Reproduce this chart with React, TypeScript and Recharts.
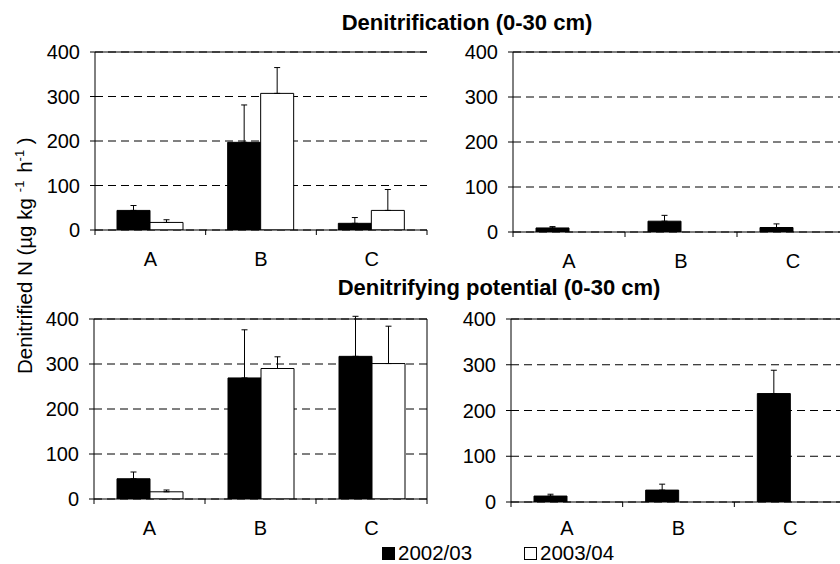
import { BarChart, Bar, XAxis, YAxis, CartesianGrid, ErrorBar, ReferenceLine } from 'recharts'

// ─── Data ────────────────────────────────────────────────────────────────────

const categories = ['A', 'B', 'C']
const seriesNames = ['2002/03', '2003/04']
const titles = ['Denitrification (0-30 cm)', 'Denitrifying potential (0-30 cm)']
const yTicks = [0, 100, 200, 300, 400]

// Denitrification (0-30 cm), left panel
const denitLeft2002 = [44, 197, 15]
const denitLeft2002Err = [11, 84, 13]
const denitLeft2003 = [17, 307, 44]
const denitLeft2003Err = [6, 58, 47]

// Denitrification (0-30 cm), right panel (2002/03 only)
const denitRight2002 = [9, 24, 10]
const denitRight2002Err = [3, 13, 8]

// Denitrifying potential (0-30 cm), left panel
const potLeft2002 = [45, 269, 317]
const potLeft2002Err = [15, 107, 89]
const potLeft2003 = [16, 290, 301]
const potLeft2003Err = [4, 26, 83]

// Denitrifying potential (0-30 cm), right panel (2002/03 only)
const potRight2002 = [13, 26, 237]
const potRight2002Err = [4, 13, 51]

// ─── Helpers ─────────────────────────────────────────────────────────────────

type Row = { cat: string; s1: number; e1: number[]; s2: number | null; e2: number[] | null }

function buildRows(v1: number[], err1: number[], v2?: number[], err2?: number[]): Row[] {
  return categories.map((cat, i) => ({
    cat,
    s1: v1[i],
    e1: [0, err1[i]],
    s2: v2 ? v2[i] : null,
    e2: v2 && err2 ? [0, err2[i]] : null,
  }))
}

const FONT = "'Liberation Sans', Arial, Helvetica, sans-serif"
const Y_W = 70
const T_PAD = 12
const R_PAD = 10
const X_H = 48

// category label in the band centre, tick marks on the band edges
function CategoryTick(props: any) {
  const { x, y, payload, gap } = props
  const half = payload?.offset ?? 0
  const axisY = y - gap
  const isLast = payload?.value === categories[categories.length - 1]
  return (
    <g>
      <line x1={x - half} y1={axisY} x2={x - half} y2={axisY + 5} stroke="#000" />
      {isLast && <line x1={x + half} y1={axisY} x2={x + half} y2={axisY + 5} stroke="#000" />}
      <text x={x} y={y} dy="0.71em" textAnchor="middle" fontSize={20} fill="#000">
        {payload.value}
      </text>
    </g>
  )
}

interface PanelProps {
  left: number
  top: number
  width: number
  height: number
  rows: Row[]
  hasSecond: boolean
  labelGap?: number
}

function Panel({ left, top, width, height, rows, hasSecond, labelGap = 22 }: PanelProps) {
  return (
    <div style={{ position: 'absolute', left: left - Y_W, top: top - T_PAD }}>
      <BarChart
        width={Y_W + width + R_PAD}
        height={T_PAD + height + X_H}
        data={rows}
        margin={{ top: T_PAD, right: R_PAD, left: 0, bottom: 0 }}
        barGap={0}
        barSize={33}
      >
        <CartesianGrid horizontal vertical={false} stroke="#000" strokeDasharray="8 5" />
        <XAxis
          dataKey="cat"
          axisLine={{ stroke: '#000' }}
          tickLine={false}
          tickSize={0}
          tickMargin={labelGap}
          height={X_H}
          interval={0}
          tick={<CategoryTick gap={labelGap} />}
        />
        <YAxis
          domain={[0, 400]}
          ticks={yTicks}
          allowDataOverflow
          interval={0}
          width={Y_W}
          axisLine={{ stroke: '#000' }}
          tickLine={{ stroke: '#000' }}
          tickSize={5}
          tickMargin={10}
          tick={{ fill: '#000', fontSize: 20 }}
        />
        <ReferenceLine y={400} stroke="#000" />
        <ReferenceLine x="C" position="end" stroke="#000" />
        <Bar dataKey="s1" name={seriesNames[0]} fill="#000" stroke="#000" isAnimationActive={false}>
          <ErrorBar dataKey="e1" direction="y" width={3} stroke="#000" strokeWidth={1} isAnimationActive={false} />
        </Bar>
        <Bar dataKey="s2" name={seriesNames[1]} fill="#fff" stroke="#000" isAnimationActive={false}>
          {hasSecond && (
            <ErrorBar dataKey="e2" direction="y" width={3} stroke="#000" strokeWidth={1} isAnimationActive={false} />
          )}
        </Bar>
      </BarChart>
    </div>
  )
}

// ─── Component ───────────────────────────────────────────────────────────────

export default function App() {
  return (
    <div
      style={{
        position: 'absolute',
        left: 0,
        top: 0,
        width: 840,
        height: 564,
        overflow: 'hidden',
        background: '#fff',
        fontFamily: FONT,
      }}
    >
      <Panel left={95} top={52} width={332} height={178}
        rows={buildRows(denitLeft2002, denitLeft2002Err, denitLeft2003, denitLeft2003Err)} hasSecond />
      <Panel left={513} top={52} width={336} height={180}
        rows={buildRows(denitRight2002, denitRight2002Err)} hasSecond={false} />
      <Panel left={94} top={319} width={333} height={180}
        rows={buildRows(potLeft2002, potLeft2002Err, potLeft2003, potLeft2003Err)} hasSecond />
      <Panel left={511} top={319} width={335} height={183} labelGap={19}
        rows={buildRows(potRight2002, potRight2002Err)} hasSecond={false} />

      {/* titles, axis label and shared legend */}
      <svg width={840} height={564} style={{ position: 'absolute', left: 0, top: 0, pointerEvents: 'none' }}>
        <text x={467} y={30} textAnchor="middle" fontWeight="bold" fontSize={22} fill="#000">
          {titles[0]}
        </text>
        <text x={499} y={295} textAnchor="middle" fontWeight="bold" fontSize={22} fill="#000">
          {titles[1]}
        </text>
        <text transform="translate(32,374) rotate(-90)" textAnchor="start" fontSize={20.5} fill="#000">
          Denitrified N (µg kg
          <tspan dx={6} dy={-8} fontSize={13}>-1</tspan>
          <tspan dx={2} dy={8}> h</tspan>
          <tspan dy={-8} fontSize={13}>-1</tspan>
          <tspan dy={8}> )</tspan>
        </text>
        <rect x={382} y={547} width={13} height={13} fill="#000" />
        <text x={398} y={560} fontSize={20.5} fill="#000">{seriesNames[0]}</text>
        <rect x={524.5} y={547.5} width={12} height={12} fill="#fff" stroke="#000" />
        <text x={540} y={560} fontSize={20.5} fill="#000">{seriesNames[1]}</text>
      </svg>
    </div>
  )
}
